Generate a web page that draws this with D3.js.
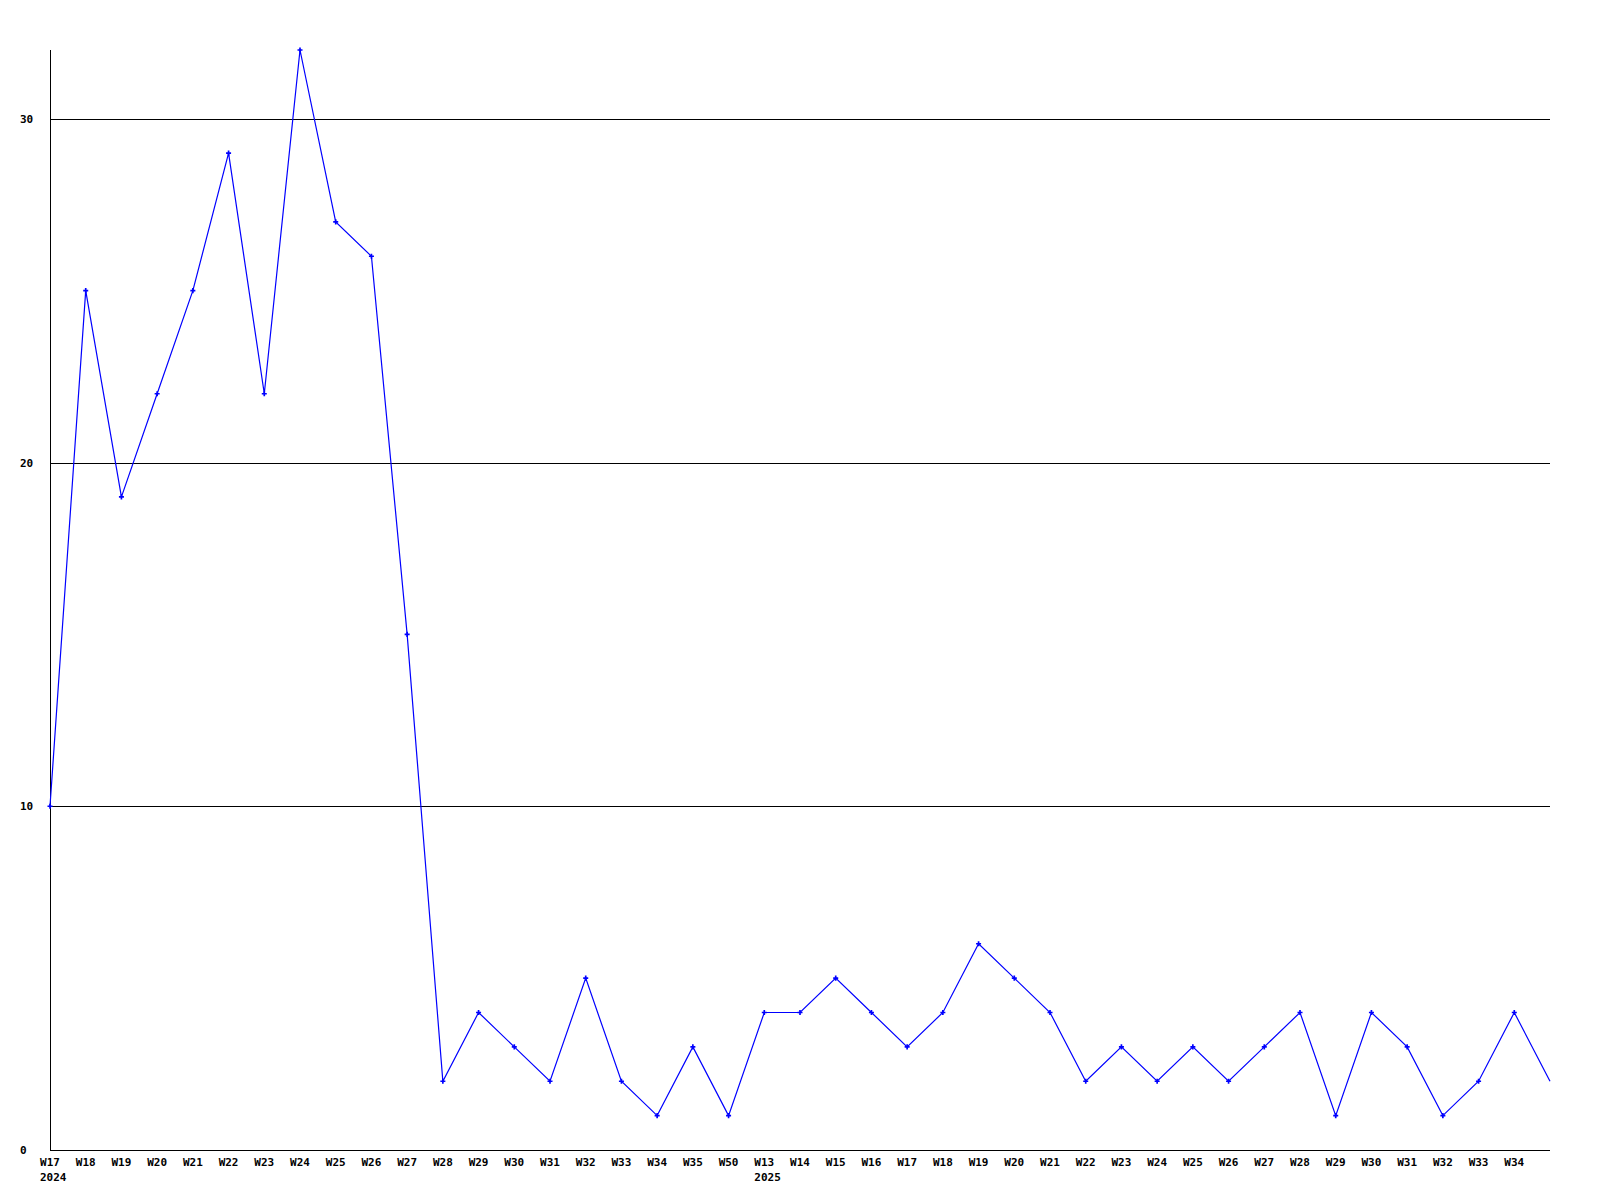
<!DOCTYPE html>
<html>
<head>
<meta charset="utf-8">
<script src="https://cdn.jsdelivr.net/npm/d3@7"></script>
<style>
  html, body { margin: 0; padding: 0; background: #fff; }
  svg { display: block; }
  text { font-family: "DejaVu Sans Mono", "Liberation Mono", monospace; font-weight: bold; font-size: 11px; fill: #000; }
</style>
</head>
<body>
<script>
const weekLabels = ["W17","W18","W19","W20","W21","W22","W23","W24","W25","W26","W27","W28","W29","W30","W31","W32","W33","W34","W35","W50",
  "W13","W14","W15","W16","W17","W18","W19","W20","W21","W22","W23","W24","W25","W26","W27","W28","W29","W30","W31","W32","W33","W34",""];
const yearLabels = [{index: 0, text: "2024"}, {index: 20, text: "2025"}];
const values = [10,25,19,22,25,29,22,32,27,26,15,2,4,3,2,5,2,1,3,1,
  4,4,5,4,3,4,6,5,4,2,3,2,3,2,3,4,1,4,3,1,2,4,2];
const yTicks = [0,10,20,30];
const yMax = 32;

const W = 1600, H = 1200;
const mLeft = 50, mRight = 1550, mTop = 50, mBottom = 1150;

const svg = d3.select("body").append("svg").attr("width", W).attr("height", H);

const x = d3.scaleLinear().domain([0, values.length - 1]).range([mLeft, mRight]);
const y = d3.scaleLinear().domain([0, yMax]).range([mBottom, mTop]);

// gridlines
svg.append("g").selectAll("line").data(yTicks.filter(d => d > 0)).join("line")
  .attr("x1", mLeft).attr("x2", mRight)
  .attr("y1", d => Math.round(y(d)) + 0.5).attr("y2", d => Math.round(y(d)) + 0.5)
  .attr("stroke", "#000").attr("stroke-width", 1);

// axes lines
svg.append("line").attr("x1", mLeft + 0.5).attr("x2", mLeft + 0.5).attr("y1", mTop).attr("y2", mBottom + 0.5)
  .attr("stroke", "#000");
svg.append("line").attr("x1", mLeft).attr("x2", mRight).attr("y1", mBottom + 0.5).attr("y2", mBottom + 0.5)
  .attr("stroke", "#000");

// y labels
svg.append("g").selectAll("text").data(yTicks).join("text")
  .attr("x", 20).attr("y", d => Math.round(y(d)) + 4)
  .text(d => d);

// x labels
svg.append("g").selectAll("text").data(weekLabels).join("text")
  .attr("x", (d, i) => x(i)).attr("y", 1166)
  .attr("text-anchor", "middle")
  .text(d => d);

svg.append("g").selectAll("text").data(yearLabels).join("text")
  .attr("x", d => x(d.index) - 10).attr("y", 1181)
  .text(d => d.text);

// line
const line = d3.line().x((d, i) => x(i)).y(d => y(d));
svg.append("path").datum(values).attr("d", line)
  .attr("fill", "none").attr("stroke", "#0000ff").attr("stroke-width", 1.2);

// markers
const sym = d3.symbol().type(d3.symbolCross).size(14);
svg.append("g").selectAll("path").data(values.map((v, i) => ({v, i})).filter(d => weekLabels[d.i] !== "")).join("path")
  .attr("transform", d => `translate(${x(d.i)},${y(d.v)})`)
  .attr("d", sym)
  .attr("fill", "#0000ff");
</script>
</body>
</html>
